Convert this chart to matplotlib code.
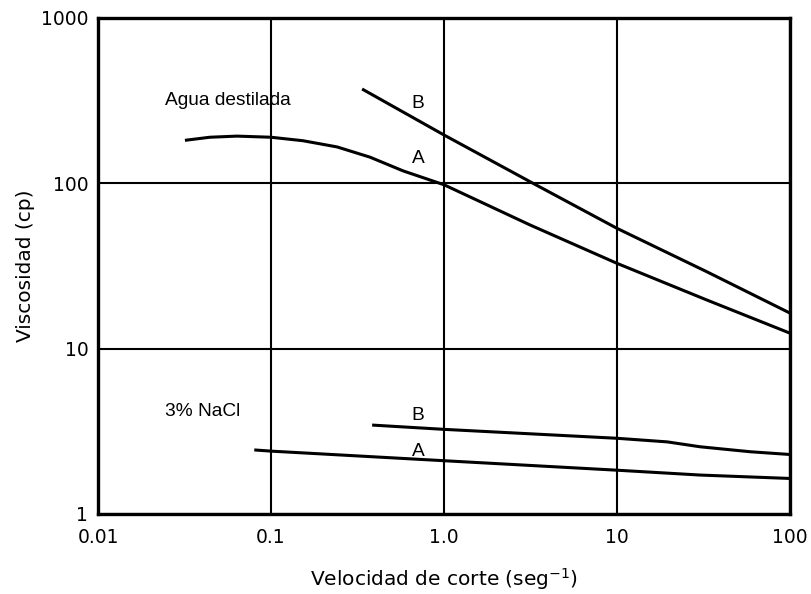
import matplotlib.pyplot as plt

plt.rcParams['font.family'] = ['DejaVu Sans']

# Agua destilada
agua_a_x = [0.0318, 0.0443, 0.0635, 0.1, 0.153, 0.241, 0.373, 0.579, 1.0, 3.14, 10, 33, 100]
agua_a_y = [182, 190, 193, 190, 181, 166, 144, 119, 98, 56, 32.8, 19.7, 12.4]
agua_b_x = [0.336, 1.0, 3.27, 10, 33, 100]
agua_b_y = [372, 196, 100, 53.4, 29.2, 16.4]

# 3% NaCl
nacl_a_x = [0.08, 0.1, 1.0, 10, 30.2, 100]
nacl_a_y = [2.44, 2.40, 2.10, 1.84, 1.72, 1.64]
nacl_b_x = [0.384, 1.0, 10, 19.5, 30.2, 58.7, 100]
nacl_b_y = [3.45, 3.25, 2.87, 2.73, 2.55, 2.38, 2.29]

xticks = [0.01, 0.1, 1.0, 10, 100]
xticklabels = ['0.01', '0.1', '1.0', '10', '100']
yticks = [1, 10, 100, 1000]
yticklabels = ['1', '10', '100', '1000']

fig = plt.figure(figsize=(8.12, 5.94), dpi=100)
ax = fig.add_axes([0.1207, 0.1347, 0.8523, 0.835])

for xs, ys in [(agua_a_x, agua_a_y), (agua_b_x, agua_b_y),
               (nacl_a_x, nacl_a_y), (nacl_b_x, nacl_b_y)]:
    ax.plot(xs, ys, color='black', lw=2.2, solid_capstyle='butt',
            solid_joinstyle='round')

ax.set_xscale('log')
ax.set_yscale('log')
ax.set_xlim(0.01, 100)
ax.set_ylim(1, 1000)
ax.set_xticks(xticks)
ax.set_xticklabels(xticklabels)
ax.set_yticks(yticks)
ax.set_yticklabels(yticklabels)
ax.minorticks_off()
ax.tick_params(length=0, labelsize=13.5)
ax.tick_params(axis='x', pad=10)
ax.tick_params(axis='y', pad=7)
ax.grid(True, color='black', lw=1.5)
for sp in ax.spines.values():
    sp.set_linewidth(2.4)

ax.set_xlabel('Velocidad de corte (seg$^{-1}$)', fontsize=14.5, labelpad=14)
ax.set_ylabel('Viscosidad (cp)', fontsize=14.5, labelpad=4)

lbl = dict(fontsize=13.8, family=['Liberation Sans'])
ax.text(0.0244, 319, 'Agua destilada', ha='left', va='center', **lbl)
ax.text(0.708, 302, 'B', ha='center', va='center', **lbl)
ax.text(0.708, 142, 'A', ha='center', va='center', **lbl)
ax.text(0.0244, 4.14, '3% NaCl', ha='left', va='center', **lbl)
ax.text(0.708, 3.96, 'B', ha='center', va='center', **lbl)
ax.text(0.708, 2.40, 'A', ha='center', va='center', **lbl)

fig.savefig('out.png', dpi=100)
